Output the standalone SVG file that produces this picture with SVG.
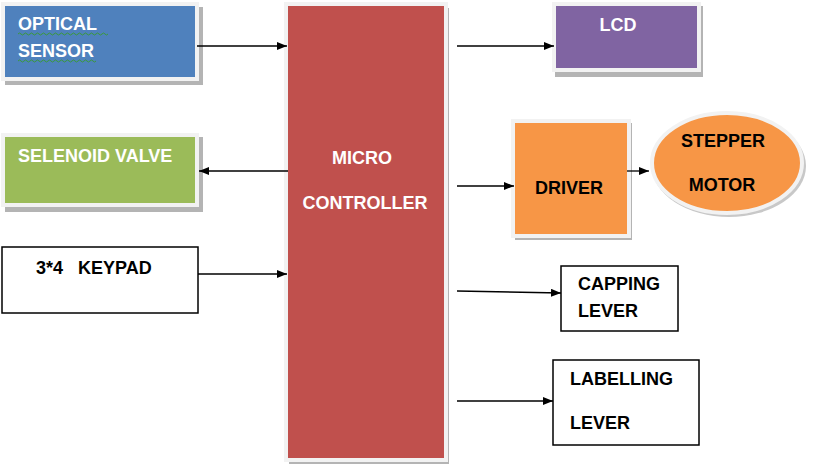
<svg xmlns="http://www.w3.org/2000/svg" width="813" height="476" viewBox="0 0 813 476">
<defs>
<marker id="ah" markerWidth="10" markerHeight="8" refX="10" refY="4" orient="auto" markerUnits="userSpaceOnUse">
<path d="M0,0 L10,4 L0,8 Z" fill="#000"/>
</marker>
</defs>
<style>
.t{font-family:"Liberation Sans",Arial,sans-serif;font-weight:bold;font-size:18px}
.w{fill:#fff}
.b{fill:#000}
.sh{fill:#b4b4b4}
.fr{stroke:#f2f2f2;stroke-width:4}
.plain{fill:#fff;stroke:#000;stroke-width:1.5}
.c{stroke:#000;stroke-width:1.3;fill:none;marker-end:url(#ah)}
.sq{stroke:#3a9a3a;stroke-width:1;fill:none}
</style>
<rect width="813" height="476" fill="#fff"/>
<g id="optical-sensor">
<rect class="sh" x="5" y="7" width="198" height="78"/>
<rect class="fr" x="3" y="4" width="194" height="75" fill="#4f81bd"/>
<text class="t w" x="18" y="30">OPTICAL</text>
<text class="t w" x="18" y="57">SENSOR</text>
<path class="sq" d="M18,34 q1.5,-2 3,0 t3,0 t3,0 t3,0 t3,0 t3,0 t3,0 t3,0 t3,0 t3,0 t3,0 t3,0 t3,0 t3,0 t3,0 t3,0 t3,0 t3,0 t3,0 t3,0 t3,0 t3,0 t3,0 t3,0 t3,0 t3,0 t3,0 t3,0 t3,0 t3,0"/>
<path class="sq" d="M18,61 q1.5,-2 3,0 t3,0 t3,0 t3,0 t3,0 t3,0 t3,0 t3,0 t3,0 t3,0 t3,0 t3,0 t3,0 t3,0 t3,0 t3,0 t3,0 t3,0 t3,0 t3,0 t3,0 t3,0 t3,0 t3,0 t3,0 t3,0"/>
</g>
<g id="selenoid-valve">
<rect class="sh" x="5" y="137" width="198" height="75"/>
<rect class="fr" x="3" y="135" width="194" height="70" fill="#9bbb59"/>
<text class="t w" x="18" y="162">SELENOID VALVE</text>
</g>
<g id="keypad">
<rect class="plain" x="2" y="247" width="196" height="66"/>
<text class="t b" x="36" y="274" xml:space="preserve">3*4   KEYPAD</text>
</g>
<g id="microcontroller">
<rect class="sh" x="289" y="8" width="160" height="456"/>
<rect class="fr" x="286" y="4" width="160" height="456" fill="#c0504d"/>
<text class="t w" x="362" y="164" text-anchor="middle">MICRO</text>
<text class="t w" x="365" y="209" text-anchor="middle">CONTROLLER</text>
</g>
<g id="lcd">
<rect class="sh" x="555" y="6" width="148" height="71"/>
<rect class="fr" x="554" y="4" width="145" height="66" fill="#8064a2"/>
<text class="t w" x="618" y="31" text-anchor="middle">LCD</text>
</g>
<g id="driver">
<rect class="sh" x="515" y="123" width="117" height="117"/>
<rect class="fr" x="513" y="121" width="116" height="115" fill="#f79646"/>
<text class="t b" x="569" y="194" text-anchor="middle">DRIVER</text>
</g>
<g id="stepper-motor">
<ellipse cx="729" cy="166" rx="77" ry="51" fill="#c8c8c8"/>
<ellipse cx="727" cy="163" rx="75" ry="50" fill="#f79646" stroke="#f2f2f2" stroke-width="4"/>
<text class="t b" x="723" y="147" text-anchor="middle">STEPPER</text>
<text class="t b" x="722" y="191" text-anchor="middle">MOTOR</text>
</g>
<g id="capping-lever">
<rect class="plain" x="561" y="266" width="117" height="65"/>
<text class="t b" x="578" y="290">CAPPING</text>
<text class="t b" x="578" y="317">LEVER</text>
</g>
<g id="labelling-lever">
<rect class="plain" x="553" y="360" width="146" height="85"/>
<text class="t b" x="570" y="385">LABELLING</text>
<text class="t b" x="570" y="429">LEVER</text>
</g>
<g id="connectors">
<line class="c" x1="197" y1="46" x2="287" y2="46"/>
<line class="c" x1="288" y1="171" x2="199" y2="171"/>
<line class="c" x1="198" y1="274" x2="287" y2="274"/>
<line class="c" x1="457" y1="46" x2="554" y2="46"/>
<line class="c" x1="457" y1="186" x2="514" y2="186"/>
<line class="c" x1="627" y1="171" x2="649" y2="171"/>
<line class="c" x1="457" y1="291" x2="561" y2="293"/>
<line class="c" x1="457" y1="401" x2="553" y2="401"/>
</g>
</svg>
